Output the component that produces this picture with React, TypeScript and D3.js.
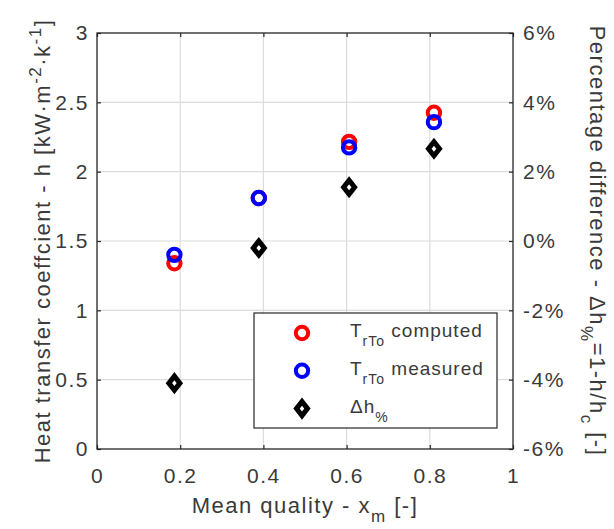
import React, { useEffect, useRef } from 'react';
import * as d3 from 'd3';

// values
const quality = [0.186, 0.389, 0.606, 0.81];
const hComputed = [1.34, 1.81, 2.215, 2.425];
const hMeasured = [1.4, 1.81, 2.175, 2.357];
const deltaPct = [-4.1, -0.2, 1.55, 2.66];

const xTicks = [0, 0.2, 0.4, 0.6, 0.8, 1];
const yTicks = [0, 0.5, 1, 1.5, 2, 2.5, 3];
const pctTicks = [-6, -4, -2, 0, 2, 4, 6];

const FONT = '"Liberation Sans", Arial, Helvetica, sans-serif';
const AXIS = '#262626';
const TEXT = '#3a3a3a';

export default function App() {
  const ref = useRef<SVGSVGElement>(null);

  useEffect(() => {
    const svg = d3.select(ref.current);
    svg.selectAll('*').remove();

    const margin = { top: 33, right: 101, bottom: 80, left: 97 };
    const width = 614 - margin.left - margin.right;
    const height = 529 - margin.top - margin.bottom;

    const g = svg
      .append('g')
      .attr('transform', `translate(${margin.left},${margin.top})`);

    const x = d3.scaleLinear().domain([0, 1]).range([0, width]);
    const y = d3.scaleLinear().domain([0, 3]).range([height, 0]);
    const yPct = d3.scaleLinear().domain([-6, 6]).range([height, 0]);

    // grid
    g.selectAll('.gx')
      .data(xTicks.slice(1, -1))
      .enter()
      .append('line')
      .attr('x1', (d) => x(d))
      .attr('x2', (d) => x(d))
      .attr('y1', 0)
      .attr('y2', height)
      .style('stroke', '#dcdcdc')
      .style('stroke-width', 1.2);
    g.selectAll('.gy')
      .data(yTicks.slice(1, -1))
      .enter()
      .append('line')
      .attr('x1', 0)
      .attr('x2', width)
      .attr('y1', (d) => y(d))
      .attr('y2', (d) => y(d))
      .style('stroke', '#dcdcdc')
      .style('stroke-width', 1.2);

    const styleAxis = (sel: any) => {
      sel.select('.domain').remove();
      sel.selectAll('line').style('stroke', AXIS).style('stroke-width', 1.2);
      sel
        .selectAll('text')
        .style('fill', TEXT)
        .style('font-family', FONT)
        .style('font-size', '21px')
        .style('letter-spacing', '1.5px');
    };

    // bottom axis
    g.append('g')
      .attr('transform', `translate(0,${height})`)
      .call(
        d3
          .axisBottom(x)
          .tickValues(xTicks)
          .tickSize(-4)
          .tickPadding(19)
          .tickFormat((d) => String(d)),
      )
      .call(styleAxis);
    // top ticks
    g.append('g')
      .call(d3.axisTop(x).tickValues(xTicks).tickSize(-4).tickFormat(() => ''))
      .call(styleAxis);

    // left axis
    g.append('g')
      .call(
        d3
          .axisLeft(y)
          .tickValues(yTicks)
          .tickSize(-4)
          .tickPadding(8)
          .tickFormat((d) => String(d)),
      )
      .call(styleAxis);

    // right axis
    g.append('g')
      .attr('transform', `translate(${width},0)`)
      .call(
        d3
          .axisRight(yPct)
          .tickValues(pctTicks)
          .tickSize(-4)
          .tickPadding(10)
          .tickFormat((d) => d + '%'),
      )
      .call(styleAxis);

    // box
    g.append('rect')
      .attr('width', width)
      .attr('height', height)
      .style('fill', 'none')
      .style('stroke', AXIS)
      .style('stroke-width', 1.3);

    // markers
    const circle = (color: string, vals: number[]) =>
      g
        .selectAll(null)
        .data(vals)
        .enter()
        .append('circle')
        .attr('cx', (d, i) => x(quality[i]))
        .attr('cy', (d) => y(d))
        .attr('r', 6.2)
        .style('fill', 'none')
        .style('stroke', color)
        .style('stroke-width', 4);
    circle('#ff0000', hComputed);
    circle('#0000ff', hMeasured);

    const diamond = (cx: number, cy: number) =>
      `M${cx},${cy - 7}L${cx + 5.5},${cy}L${cx},${cy + 7}L${cx - 5.5},${cy}Z`;

    g.selectAll(null)
      .data(deltaPct)
      .enter()
      .append('path')
      .attr('d', (d, i) => diamond(x(quality[i]), yPct(d)))
      .style('fill', 'none')
      .style('stroke', '#000000')
      .style('stroke-width', 5)
      .style('stroke-linejoin', 'miter');

    // legend
    const legend = svg.append('g').attr('transform', 'translate(254,313)');
    legend
      .append('rect')
      .attr('width', 243)
      .attr('height', 115)
      .style('fill', '#ffffff')
      .style('stroke', AXIS)
      .style('stroke-width', 1.2);

    const legendRows = [
      { color: '#ff0000', kind: 'circle', main: 'T', sub: 'rTo', rest: ' computed' },
      { color: '#0000ff', kind: 'circle', main: 'T', sub: 'rTo', rest: ' measured' },
      { color: '#000000', kind: 'diamond', main: '\u0394h', sub: '%', rest: '' },
    ];
    legendRows.forEach((r, i) => {
      const cy = 20 + i * 37.8;
      if (r.kind === 'circle') {
        legend
          .append('circle')
          .attr('cx', 48)
          .attr('cy', cy)
          .attr('r', 6.2)
          .style('fill', 'none')
          .style('stroke', r.color)
          .style('stroke-width', 4);
      } else {
        legend
          .append('path')
          .attr('d', diamond(48, cy))
          .style('fill', 'none')
          .style('stroke', r.color)
          .style('stroke-width', 5);
      }
      const t = legend
        .append('text')
        .attr('x', 96)
        .attr('y', cy + 4)
        .style('font-family', FONT)
        .style('font-size', '19px')
        .style('letter-spacing', '1px')
        .style('fill', TEXT);
      t.append('tspan').text(r.main);
      t.append('tspan')
        .attr('dy', 9)
        .style('font-size', '14px')
        .text(r.sub);
      if (r.rest) t.append('tspan').attr('dy', -9).text(r.rest);
    });

    // axis labels
    const labelStyle = (sel: any) =>
      sel
        .attr('text-anchor', 'middle')
        .style('font-family', FONT)
        .style('font-size', '22px')
        .style('letter-spacing', '1.5px')
        .style('fill', TEXT);

    const xl = svg
      .append('text')
      .attr('x', margin.left + width / 2)
      .attr('y', 513)
      .call(labelStyle);
    xl.append('tspan').text('Mean quality - x');
    xl.append('tspan').attr('dy', 9).style('font-size', '17px').text('m');
    xl.append('tspan').attr('dy', -9).text(' [-]');

    const yl = svg
      .append('text')
      .attr(
        'transform',
        `translate(50,${margin.top + height / 2}) rotate(-90)`,
      )
      .call(labelStyle);
    yl.append('tspan').text('Heat transfer coeffcient - h [kW\u00b7m');
    yl.append('tspan').attr('dy', -9).style('font-size', '17px').text('-2');
    yl.append('tspan').attr('dy', 9).text('\u00b7k');
    yl.append('tspan').attr('dy', -9).style('font-size', '17px').text('-1');
    yl.append('tspan').attr('dy', 9).text(']');

    const rl = svg
      .append('text')
      .attr(
        'transform',
        `translate(590,${margin.top + height / 2}) rotate(90)`,
      )
      .call(labelStyle);
    rl.append('tspan').text('Percentage difference - \u0394h');
    rl.append('tspan').attr('dy', 9).style('font-size', '17px').text('%');
    rl.append('tspan').attr('dy', -9).text('=1-h/h');
    rl.append('tspan').attr('dy', 9).style('font-size', '17px').text('c');
    rl.append('tspan').attr('dy', -9).text(' [-]');
  }, []);

  return (
    <svg
      ref={ref}
      width={614}
      height={529}
      style={{ position: 'absolute', left: 0, top: 0, background: '#ffffff' }}
    />
  );
}
